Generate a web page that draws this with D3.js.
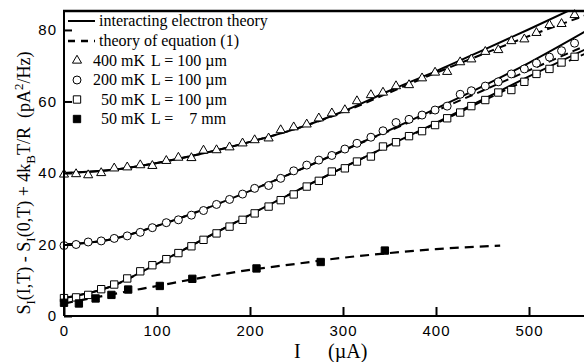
<!DOCTYPE html>
<html>
<head>
<meta charset="utf-8">
<script src="https://cdn.jsdelivr.net/npm/d3@7/dist/d3.min.js"></script>
<style>
  body { margin: 0; background: #fff; }
  svg { display: block; }
  text { white-space: pre; }
</style>
</head>
<body>
<div class="noise-chart"></div>
<script>
// measured currents (uA), shared by the three 100 um samples
const currents = [0, 13, 26, 40, 54, 68, 82, 95, 110, 123, 137, 150, 164, 178, 192, 205, 220, 233, 247, 261,
  274, 288, 302, 315, 330, 343, 357, 371, 385, 399, 412, 426, 438, 453, 467, 481, 495, 508, 522, 535, 549];
const tri400 = [39.6, 39.7, 39.4, 40.0, 41.3, 41.6, 42.2, 42.0, 43.4, 44.3, 44.2, 46.3, 46.4, 47.2, 48.3, 49.2, 49.7, 52.0, 52.8, 53.6,
  55.3, 56.7, 57.6, 60.1, 61.8, 62.5, 64.3, 64.6, 66.5, 68.1, 68.3, 71.0, 71.8, 73.9, 74.4, 76.9, 77.4, 79.2, 81.4, 81.7, 84.2];
const circ200 = [19.7, 20.0, 20.7, 21.0, 21.7, 22.4, 23.4, 24.7, 26.1, 26.9, 28.2, 29.5, 31.2, 32.6, 34.1, 35.7, 36.5, 38.5, 40.6, 42.2,
  43.6, 44.9, 46.7, 48.3, 50.0, 51.8, 54.1, 55.0, 56.2, 57.6, 58.7, 62.0, 63.0, 64.3, 65.5, 67.7, 69.1, 70.7, 72.4, 74.2, 76.3];
const sq50 = [5.0, 5.2, 5.9, 7.5, 8.8, 10.5, 12.5, 14.2, 15.9, 17.6, 19.5, 21.3, 23.1, 25.0, 26.9, 28.7, 30.6, 32.4, 34.0, 36.2,
  37.8, 40.4, 41.3, 43.2, 44.6, 47.4, 48.6, 50.3, 51.7, 53.4, 55.3, 56.9, 58.7, 60.4, 62.5, 63.2, 65.5, 67.7, 69.1, 70.9, 72.5];

// 7 mm sample
const currents7mm = [0, 16, 34, 51, 69, 103, 138, 207, 276, 345];
const filled7mm = [3.7, 3.5, 4.9, 5.9, 7.4, 8.4, 10.4, 13.3, 15.1, 18.3];

// theory curves
const theoryCurrents = [0, 50, 100, 150, 200, 250, 300, 350, 400, 450, 500, 560];
const interact400 = [40, 40.8, 42.8, 45.5, 48.7, 52.4, 57.2, 63, 68.5, 74.3, 80.2, 87.5];
const interact200 = [20, 21.4, 25.2, 29.8, 35, 40.5, 46.3, 52, 58, 64.2, 70.8, 79.5];
const interact50 = [5, 8.2, 14.6, 21.5, 28.3, 35, 41.5, 47.8, 54, 60.5, 67, 74.5];
const eq1_400 = [40, 40.8, 42.8, 45.5, 48.7, 52.4, 57, 62.5, 68, 73.2, 78.3, 84];
const eq1_200 = [20, 21.4, 25.2, 29.8, 35, 40.5, 46.2, 51.8, 57.4, 63, 68.7, 75.5];
const eq1_50 = [5, 8.2, 14.6, 21.5, 28.3, 35, 41.5, 47.7, 53.8, 60.1, 66.3, 73.3];
const eq1Currents7mm = [0, 50, 100, 150, 200, 250, 300, 350, 400, 469];
const eq1_7mm = [3.5, 6, 8.4, 10.8, 12.9, 14.6, 16.3, 17.6, 18.7, 19.7];

const xTicks = [0, 100, 200, 300, 400, 500];
const yTicks = [0, 20, 40, 60, 80];

const width = 584, height = 362;
const svg = d3.select('.noise-chart').append('svg')
  .attr('width', width)
  .attr('height', height);

const x = d3.scaleLinear().domain([0, 560]).range([64, 584.8]);
const y = d3.scaleLinear().domain([0, 85.3]).range([316, 11]);

svg.append('clipPath').attr('id', 'plot-clip')
  .append('rect').attr('x', 64).attr('y', 11).attr('width', 521).attr('height', 305);

const zip = (xs, ys) => xs.map((v, i) => [v, ys[i]]);
const line = d3.line().x(d => x(d[0])).y(d => y(d[1])).curve(d3.curveMonotoneX);

const curves = svg.append('g').attr('clip-path', 'url(#plot-clip)');
[interact400, interact200, interact50].forEach(vals => {
  curves.append('path')
    .datum(zip(theoryCurrents, vals))
    .attr('fill', 'none').attr('stroke', '#000').attr('stroke-width', 2)
    .attr('d', line);
});
[eq1_400, eq1_200, eq1_50].forEach(vals => {
  curves.append('path')
    .datum(zip(theoryCurrents, vals))
    .attr('fill', 'none').attr('stroke', '#000').attr('stroke-width', 2)
    .attr('stroke-dasharray', '8,5')
    .attr('d', line);
});
curves.append('path')
  .datum(zip(eq1Currents7mm, eq1_7mm))
  .attr('fill', 'none').attr('stroke', '#000').attr('stroke-width', 2.2)
  .attr('stroke-dasharray', '9,6')
  .attr('d', line);

// marker shapes
const tri = d3.symbol().type(d3.symbolTriangle).size(36);
const sq = d3.symbol().type(d3.symbolSquare).size(54);

function drawPoints(xs, ys, kind) {
  const g = svg.append('g');
  const pts = g.selectAll('.pt').data(zip(xs, ys)).enter();
  if (kind === 'circle') {
    pts.append('circle')
      .attr('cx', d => x(d[0])).attr('cy', d => y(d[1])).attr('r', 4)
      .attr('fill', '#fff').attr('stroke', '#000').attr('stroke-width', 1);
  } else {
    pts.append('path')
      .attr('transform', d => `translate(${x(d[0])},${y(d[1])})`)
      .attr('d', kind === 'tri' ? tri : sq)
      .attr('fill', kind === 'filled' ? '#000' : '#fff')
      .attr('stroke', '#000').attr('stroke-width', 1);
  }
}
drawPoints(currents, tri400, 'tri');
drawPoints(currents, circ200, 'circle');
drawPoints(currents, sq50, 'sq');
drawPoints(currents7mm, filled7mm, 'filled');

// axes, ticks point inward
const xAxis = svg.append('g')
  .attr('transform', 'translate(0,316)')
  .call(d3.axisBottom(x).tickValues(xTicks).tickSize(-9).tickSizeOuter(0).tickPadding(9));
const yAxis = svg.append('g')
  .attr('transform', 'translate(64,0)')
  .call(d3.axisLeft(y).tickValues(yTicks).tickSize(-8).tickSizeOuter(0).tickPadding(7));
[xAxis, yAxis].forEach(ax => {
  ax.selectAll('path, line').attr('stroke', '#000').attr('stroke-width', 2);
  ax.selectAll('text')
    .attr('fill', '#000')
    .style('font-family', '"Liberation Sans", Arial, sans-serif')
    .style('font-size', '15px')
    .style('letter-spacing', '1px');
});
xAxis.select('.domain').attr('d', 'M64,0H585');
yAxis.select('.domain').attr('d', 'M0,316V11');

// top frame line
svg.append('line')
  .attr('x1', 63).attr('x2', 584).attr('y1', 11).attr('y2', 11)
  .attr('stroke', '#000').attr('stroke-width', 2.5);

// legend
const serif = '"Liberation Serif", "Times New Roman", serif';
const legend = svg.append('g').style('font-family', serif).style('font-size', '16px');
const legRows = [21, 41, 60.5, 80, 99.5, 119];
legend.append('line').attr('x1', 68).attr('x2', 95).attr('y1', legRows[0]).attr('y2', legRows[0])
  .attr('stroke', '#000').attr('stroke-width', 2);
legend.append('line').attr('x1', 68).attr('x2', 95).attr('y1', legRows[1]).attr('y2', legRows[1])
  .attr('stroke', '#000').attr('stroke-width', 2.5).attr('stroke-dasharray', '7,6');
legend.append('text').attr('x', 99).attr('y', legRows[0] + 5).text('interacting electron theory');
legend.append('text').attr('x', 99).attr('y', legRows[1] + 5).text('theory of equation (1)');

const legTemps = ['400 mK', '200 mK', '50 mK', '50 mK'];
const legLengths = ['L = 100 µm', 'L = 100 µm', 'L = 100 µm', 'L =    7 mm'];
const legKinds = ['tri', 'circle', 'sq', 'filled'];
legKinds.forEach((k, i) => {
  const yy = legRows[i + 2];
  if (k === 'circle') {
    legend.append('circle').attr('cx', 77).attr('cy', yy).attr('r', 4)
      .attr('fill', '#fff').attr('stroke', '#000');
  } else {
    legend.append('path').attr('transform', `translate(77,${yy})`)
      .attr('d', k === 'tri' ? tri : sq)
      .attr('fill', k === 'filled' ? '#000' : '#fff').attr('stroke', '#000');
  }
  legend.append('text').attr('x', 145).attr('y', yy + 5).attr('text-anchor', 'end').text(legTemps[i]);
  legend.append('text').attr('x', 151).attr('y', yy + 5).text(legLengths[i]);
});

// axis titles
const xTitle = svg.append('text')
  .attr('y', 358)
  .style('font-family', serif).style('font-size', '20px');
xTitle.append('tspan').attr('x', 294).text('I');
xTitle.append('tspan').attr('x', 328).text('(µA)');

const yTitle = svg.append('text')
  .attr('transform', 'translate(30,183) rotate(-90)')
  .attr('text-anchor', 'middle')
  .style('font-family', serif).style('font-size', '18px');
const yParts = [
  ['S', 0, 18], ['I', 5, 13], ['(I,T) - S', -5, 18], ['I', 5, 13], ['(0,T) + 4k', -5, 18],
  ['B', 5, 13], ['T/R  (pA', -5, 18], ['2', -7, 13], ['/Hz)', 7, 18]
];
yParts.forEach(([t, dy, fs]) => {
  yTitle.append('tspan').attr('dy', dy).style('font-size', fs + 'px').text(t);
});
</script>
</body>
</html>
